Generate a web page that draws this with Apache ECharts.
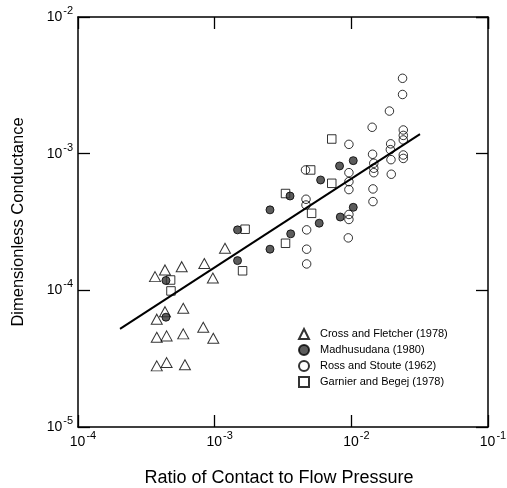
<!DOCTYPE html>
<html>
<head>
<meta charset="utf-8">
<script src="https://cdn.jsdelivr.net/npm/echarts@6/dist/echarts.min.js"></script>
<style>
html,body{margin:0;padding:0;background:#fff;}
#chart{width:507px;height:488px;}
</style>
</head>
<body>
<div id="chart"></div>
<script>
// ---- Data (x = ratio of contact to flow pressure, y = dimensionless conductance) ----
const seriesNames = ['Cross and Fletcher (1978)', 'Madhusudana (1980)', 'Ross and Stoute (1962)', 'Garnier and Begej (1978)'];

const crossFletcher = [
  [1.19e-3, 2.03e-4], [4.33e-4, 1.41e-4], [3.66e-4, 1.26e-4], [5.74e-4, 1.49e-4],
  [8.40e-4, 1.57e-4], [9.70e-4, 1.23e-4], [4.33e-4, 6.98e-5], [5.89e-4, 7.40e-5],
  [3.77e-4, 6.15e-5], [3.77e-4, 4.54e-5], [4.45e-4, 4.64e-5], [5.89e-4, 4.80e-5],
  [8.25e-4, 5.37e-5], [9.77e-4, 4.46e-5], [3.77e-4, 2.80e-5], [4.45e-4, 2.96e-5],
  [6.06e-4, 2.85e-5]
];

const madhusudana = [
  [4.40e-4, 1.18e-4], [4.40e-4, 6.36e-5], [1.47e-3, 1.65e-4], [1.47e-3, 2.77e-4],
  [2.54e-3, 3.88e-4], [2.54e-3, 2.00e-4], [3.56e-3, 4.90e-4], [3.60e-3, 2.59e-4],
  [5.82e-3, 3.10e-4], [5.96e-3, 6.42e-4], [8.20e-3, 8.13e-4], [1.033e-2, 8.89e-4],
  [8.30e-3, 3.44e-4], [1.033e-2, 4.05e-4]
];

const rossStoute = [
  [4.62e-3, 7.60e-4], [4.66e-3, 4.64e-4], [4.66e-3, 4.21e-4], [4.71e-3, 2.77e-4],
  [4.71e-3, 2.00e-4], [4.71e-3, 1.56e-4], [9.60e-3, 1.17e-3], [9.60e-3, 7.26e-4],
  [9.60e-3, 6.24e-4], [9.60e-3, 5.46e-4], [9.60e-3, 3.59e-4], [9.60e-3, 3.30e-4],
  [9.50e-3, 2.42e-4], [1.42e-2, 1.56e-3], [1.43e-2, 9.90e-4], [1.46e-2, 8.51e-4],
  [1.46e-2, 7.82e-4], [1.46e-2, 7.26e-4], [1.44e-2, 5.52e-4], [1.44e-2, 4.46e-4],
  [1.90e-2, 2.05e-3], [1.94e-2, 1.18e-3], [1.93e-2, 1.07e-3], [1.95e-2, 9.04e-4],
  [1.96e-2, 7.07e-4], [2.37e-2, 3.56e-3], [2.37e-2, 2.71e-3], [2.40e-2, 1.49e-3],
  [2.40e-2, 1.36e-3], [2.40e-2, 1.26e-3], [2.40e-2, 9.78e-4], [2.40e-2, 9.23e-4]
];

const garnierBegej = [
  [4.76e-4, 1.19e-4], [4.79e-4, 9.90e-5], [1.60e-3, 1.39e-4], [1.67e-3, 2.80e-4],
  [3.30e-3, 5.11e-4], [3.30e-3, 2.21e-4], [5.04e-3, 7.60e-4], [5.12e-3, 3.66e-4],
  [7.19e-3, 1.28e-3], [7.19e-3, 6.07e-4]
];

// Correlation line end points
const fitLine = [[2.03e-4, 5.22e-5], [3.18e-2, 1.39e-3]];

// Axis ranges (decades)
const xRange = [1e-4, 1e-1];
const yRange = [1e-5, 1e-2];

const xTitle = 'Ratio of Contact to Flow Pressure';
const yTitle = 'Dimensionless Conductance';

// ---- Chart ----
const FONT = 'Liberation Sans, Arial, Helvetica, sans-serif';
const chart = echarts.init(document.getElementById('chart'), null, {renderer: 'canvas'});

function powLabel(v) {
  const e = Math.round(Math.log10(v));
  return '{b|10}{e|' + String(e) + '}';
}

const axisLineStyle = {color: '#000', width: 1.5};
const tickStyle = {show: true, inside: true, length: 12, lineStyle: {color: '#000', width: 1.3}};

function xAxisDef(pos, showLabels) {
  return {
    type: 'log', logBase: 10, min: xRange[0], max: xRange[1], position: pos,
    axisLine: {show: true, lineStyle: axisLineStyle},
    axisTick: tickStyle,
    splitLine: {show: false},
    minorTick: {show: false},
    axisLabel: showLabels ? {
      show: true, margin: 7, padding: [0, 0, 0, 10],
      formatter: powLabel,
      rich: {
        b: {fontFamily: FONT, fontSize: 14, color: '#000', lineHeight: 16},
        e: {fontFamily: FONT, fontSize: 11, color: '#000', lineHeight: 12, padding: [0, 0, 12, 1]}
      }
    } : {show: false},
    name: showLabels ? xTitle : '',
    nameLocation: 'middle', nameGap: 42,
    nameTextStyle: {fontFamily: FONT, fontSize: 18, color: '#000', padding: [0, 8, 0, 0]}
  };
}

function yAxisDef(pos, showLabels) {
  return {
    type: 'log', logBase: 10, min: yRange[0], max: yRange[1], position: pos,
    axisLine: {show: true, lineStyle: axisLineStyle},
    axisTick: tickStyle,
    splitLine: {show: false},
    minorTick: {show: false},
    axisLabel: showLabels ? {
      show: true, margin: 5,
      formatter: powLabel,
      rich: {
        b: {fontFamily: FONT, fontSize: 14, color: '#000', lineHeight: 16},
        e: {fontFamily: FONT, fontSize: 11, color: '#000', lineHeight: 12, padding: [5, 0, 17, 1]}
      }
    } : {show: false},
    name: showLabels ? yTitle : '',
    nameLocation: 'middle', nameGap: 51, nameRotate: 90,
    nameTextStyle: {fontFamily: FONT, fontSize: 16.5, color: '#000'}
  };
}

const openStyle = {color: 'rgba(255,255,255,0)', borderColor: '#000', borderWidth: 1};

const option = {
  animation: false,
  backgroundColor: '#fff',
  grid: {left: 78, right: 19, top: 17, bottom: 61, containLabel: false, outerBoundsMode: 'none'},
  xAxis: [xAxisDef('bottom', true), xAxisDef('top', false)],
  yAxis: [yAxisDef('left', true), yAxisDef('right', false)],
  legend: {
    data: seriesNames,
    orient: 'vertical',
    left: 298, top: 328,
    padding: 0,
    itemWidth: 10, itemHeight: 10, itemGap: 4,
    textStyle: {fontFamily: FONT, fontSize: 11, color: '#000', padding: [0, 0, 0, 6]},
    selectedMode: false
  },
  series: [
    {
      name: 'fit', type: 'line', data: fitLine, showSymbol: false, symbol: 'none',
      lineStyle: {color: '#000', width: 2}, z: 1, silent: true
    },
    {
      name: seriesNames[0], type: 'scatter', data: crossFletcher,
      symbol: 'triangle', symbolSize: [11, 10], itemStyle: openStyle, z: 3
    },
    {
      name: seriesNames[1], type: 'scatter', data: madhusudana,
      symbol: 'circle', symbolSize: 8,
      itemStyle: {color: '#333', borderColor: '#000', borderWidth: 1}, z: 4
    },
    {
      name: seriesNames[2], type: 'scatter', data: rossStoute,
      symbol: 'circle', symbolSize: 8.5, itemStyle: openStyle, z: 3
    },
    {
      name: seriesNames[3], type: 'scatter', data: garnierBegej,
      symbol: 'rect', symbolSize: 8.5, itemStyle: openStyle, z: 3
    }
  ]
};
chart.setOption(option);
</script>
</body>
</html>
